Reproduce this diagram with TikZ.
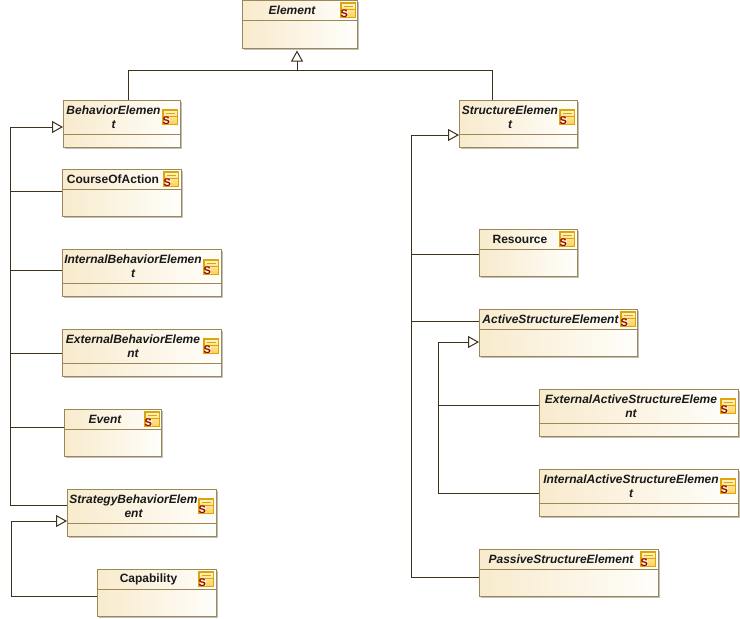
\documentclass[tikz,border=0pt]{standalone}
\usepackage{fontspec}
\setmainfont{Liberation Sans}
\usetikzlibrary{arrows.meta}
\definecolor{boxedge}{HTML}{9C8856}
\definecolor{boxleft}{HTML}{F8EBCD}
\definecolor{boxright}{HTML}{FFFEFB}
\definecolor{wire}{HTML}{3F321C}
\definecolor{iconedge}{HTML}{DDA50A}
\definecolor{iconfill}{HTML}{FFCF55}
\definecolor{iconlight}{HTML}{FFF4C8}
\definecolor{iconred}{HTML}{8E0606}
\tikzset{
  umlbox/.style={draw=boxedge,line width=1pt,left color=boxleft,right color=boxright,inner sep=0pt,outer sep=0pt},
  divider/.style={draw=boxedge,line width=1pt},
  boxshadow/.style={fill=black!25,draw=none},
  titleb/.style={font=\fontsize{12}{13}\selectfont\bfseries,text=black!90,inner sep=0pt,align=center},
  titlei/.style={font=\fontsize{12}{13.6}\selectfont\bfseries\itshape,text=black!90,inner sep=0pt,align=center},
  wireline/.style={draw=wire,line width=1pt},
  gen/.style={wireline,-{Triangle[open,fill=white,length=11pt,width=12pt,line width=1pt]}},
}
\newcommand{\umlclass}[8]{%
  \fill[boxshadow] (#2+1.5,#3+1.5) rectangle (#4+0.8,#5+1.2);
  \node[umlbox,minimum width={(#4-#2-1)*1pt},minimum height={(#5-#3-0.5)*1pt}] (#1) at ({(#2+#4-1)/2},{(#3+#5-0.5)/2}) {};
  \draw[divider] (#1.west |- 0,#6) -- (#1.east |- 0,#6);
  \filldraw[draw=iconedge,line width=1.1pt,top color=iconlight,bottom color=iconfill] (#7,#8) rectangle (#7+14.5,#8+14.5);
  \draw[iconedge,line width=0.8pt] (#7+2.5,#8+3.4) -- (#7+12,#8+3.4) (#7+0.5,#8+6.6) -- (#7+14,#8+6.6);
  \fill[iconlight] (#7+0.5,#8+7) rectangle (#7+7,#8+14);
  \node[inner sep=0pt,text=iconred,font=\fontsize{11}{11}\selectfont\bfseries] at (#7+3.4,#8+10.4) {S};
}
\begin{document}
\begin{tikzpicture}[x=1pt,y=-1pt]
\useasboundingbox (0,0) rectangle (740,619);
\fill[white] (0,0) rectangle (740,619);

\umlclass{element}{242}{0}{358}{49}{20}{341}{3}
\umlclass{behavior}{63}{100}{181}{148}{134}{163}{110}
\umlclass{course}{62}{169}{182}{217}{189}{164}{172}
\umlclass{internalb}{62}{249}{222}{297}{283}{204}{260}
\umlclass{externalb}{62}{329}{222}{377}{363}{204}{339}
\umlclass{event}{64}{409}{162}{457}{429}{145}{412}
\umlclass{strategy}{67}{489}{217}{537}{523}{199}{499}
\umlclass{capability}{97}{569}{217}{617}{589}{199}{572}
\umlclass{structure}{459}{100}{578}{148}{134}{560}{110}
\umlclass{resource}{479}{229}{578}{277}{249}{560}{232}
\umlclass{active}{479}{309}{638}{357}{329}{621}{312}
\umlclass{externala}{539}{389}{739}{437}{423}{721}{399}
\umlclass{internala}{539}{469}{739}{517}{503}{721}{479}
\umlclass{passive}{479}{549}{659}{597}{569}{641}{552}

\node[titlei] (telement) at (292,10) {Element};
\node[titlei] (tbehavior) at (113.5,117.3) {BehaviorElemen\\t};
\node[titleb] (tcourse) at (113,179.3) {CourseOfAction};
\node[titlei] (tinternalb) at (133,266.3) {InternalBehaviorElemen\\t};
\node[titlei] (texternalb) at (133,346.3) {ExternalBehaviorEleme\\nt};
\node[titlei] (tevent) at (105,419.3) {Event};
\node[titlei] (tstrategy) at (133.5,506.3) {StrategyBehaviorElem\\ent};
\node[titleb] (tcapability) at (148.5,579.3) {Capability};
\node[titlei] (tstructure) at (510,117.3) {StructureElemen\\t};
\node[titleb] (tresource) at (520,239.3) {Resource};
\node[titlei] (tactive) at (550.5,319.3) {ActiveStructureElement};
\node[titlei] (texternala) at (631,406.3) {ExternalActiveStructureEleme\\nt};
\node[titlei] (tinternala) at (631,486.3) {InternalActiveStructureElemen\\t};
\node[titlei] (tpassive) at (561,559.3) {PassiveStructureElement};

\coordinate (hub) at (297,70);
\coordinate (trunkb) at (10,127);
\coordinate (trunks) at (411,135);
\coordinate (trunka) at (438,342);
\coordinate (trunkc) at (11,521);
\coordinate (leftdrop) at (128,100);
\coordinate (rightdrop) at (492,100);

% Element generalization
\draw[wireline] (leftdrop) |- (hub);
\draw[wireline] (rightdrop) |- (hub);
\draw[gen] (hub) -- (hub |- 0,50.5);

% BehaviorElement family
\draw[gen] (strategy.west |- 0,505) -| (trunkb) -- (behavior.west |- 0,127);
\draw[wireline] (course.west |- 0,191) -| (trunkb);
\draw[wireline] (internalb.west |- 0,270) -| (trunkb);
\draw[wireline] (externalb.west |- 0,353) -| (trunkb);
\draw[wireline] (event.west |- 0,427) -| (trunkb);

% StrategyBehaviorElement
\draw[gen] (capability.west |- 0,596) -| (trunkc) -- (strategy.west |- 0,521);

% StructureElement family
\draw[gen] (passive.west |- 0,577) -| (trunks) -- (structure.west |- 0,135);
\draw[wireline] (resource.west |- 0,254) -| (trunks);
\draw[wireline] (active.west |- 0,321) -| (trunks);

% ActiveStructureElement family
\draw[gen] (internala.west |- 0,493) -| (trunka) -- (active.west |- 0,342);
\draw[wireline] (externala.west |- 0,405) -| (trunka);
\end{tikzpicture}
\end{document}
